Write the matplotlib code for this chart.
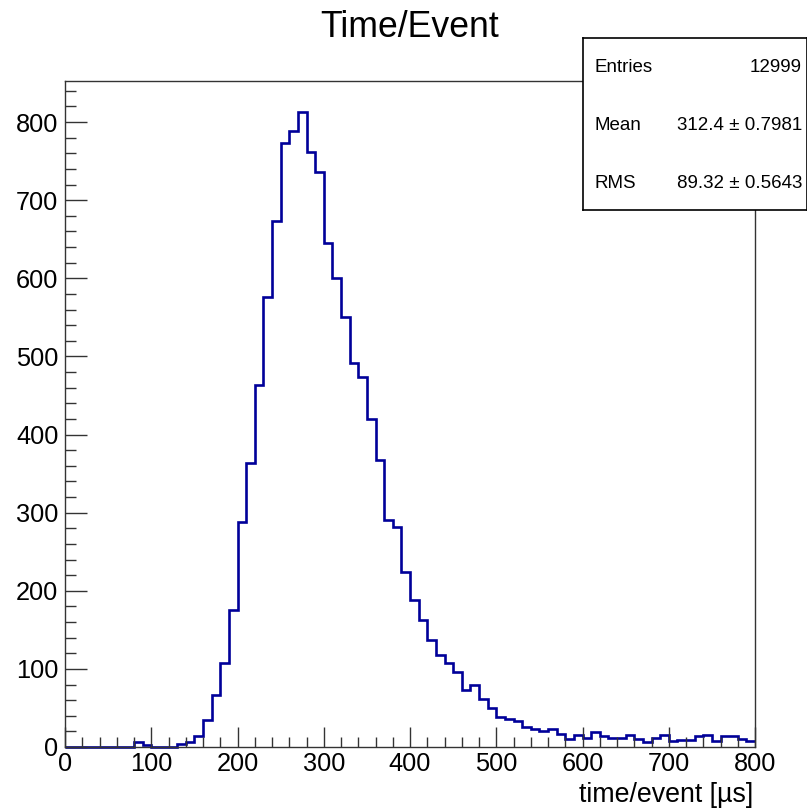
import numpy as np
import matplotlib
matplotlib.use("Agg")
import matplotlib.pyplot as plt
from matplotlib.ticker import MultipleLocator

# 80 bins of 10 us from 0 to 800
bin_edges = np.arange(0, 810, 10)
counts = [
    0, 0, 0, 0, 0, 0, 0, 0, 6, 2,
    0, 0, 0, 4, 6, 14, 35, 66, 108, 175,
    288, 363, 464, 576, 673, 773, 789, 813, 762, 736,
    645, 600, 551, 491, 473, 420, 367, 291, 282, 224,
    188, 163, 137, 118, 108, 96, 73, 79, 62, 50,
    39, 36, 33, 25, 23, 20, 23, 17, 10, 15,
    12, 19, 14, 12, 11, 15, 10, 6, 11, 15,
    8, 9, 9, 14, 15, 8, 14, 14, 10, 8,
]
stat_names = ["Entries", "Mean", "RMS"]
stat_values = ["12999", "312.4 \u00b1 0.7981", "89.32 \u00b1 0.5643"]

plt.rcParams['font.family'] = ['Liberation Sans', 'DejaVu Sans']

fig = plt.figure(figsize=(8.07, 8.08), dpi=100)
ax = fig.add_axes([65/807, 61/808, 690/807, 666/808])

ax.stairs(counts, bin_edges, baseline=None, color='#000099', linewidth=1.9, clip_on=False)

ax.set_xlim(0, 800)
ax.set_ylim(0, 852.5)
ax.xaxis.set_major_locator(MultipleLocator(100))
ax.xaxis.set_minor_locator(MultipleLocator(20))
ax.yaxis.set_major_locator(MultipleLocator(100))
ax.yaxis.set_minor_locator(MultipleLocator(20))
ax.tick_params(which='both', direction='in', top=False, right=False, color='#333333', width=1)
ax.tick_params(axis='x', which='major', length=14.4, pad=3.6, labelsize=18.3)
ax.tick_params(axis='x', which='minor', length=7.2)
ax.tick_params(axis='y', which='major', length=15.6, pad=4.8, labelsize=18.3)
ax.tick_params(axis='y', which='minor', length=7.9)
for s in ax.spines.values():
    s.set_linewidth(1)
    s.set_color('#333333')

fig.text(410/807, 1 - 36.7/808, "Time/Event", ha='center', va='baseline', fontsize=25.7)
fig.text(753/807, 1 - 801.5/808, "time/event [\u00b5s]", ha='right', va='baseline', fontsize=19.3)

# stats box
box = fig.add_axes([582.5/807, 1 - 210/808, (807 - 582.5)/807, (210 - 38)/808])
box.set_xticks([])
box.set_yticks([])
box.set_xlim(0, 1)
box.set_ylim(0, 1)
for s in box.spines.values():
    s.set_linewidth(1.2)
    s.set_color('black')
row_y = [1 - (67 - 38)/172, 1 - (126 - 38)/172, 1 - (183 - 38)/172]
for name, val, yy in zip(stat_names, stat_values, row_y):
    box.text((594 - 582.5)/224.5, yy, name, ha='left', va='center', fontsize=13.5)
    box.text((802 - 582.5)/224.5, yy, val, ha='right', va='center', fontsize=13.5)

fig.savefig("out.png", dpi=100)
